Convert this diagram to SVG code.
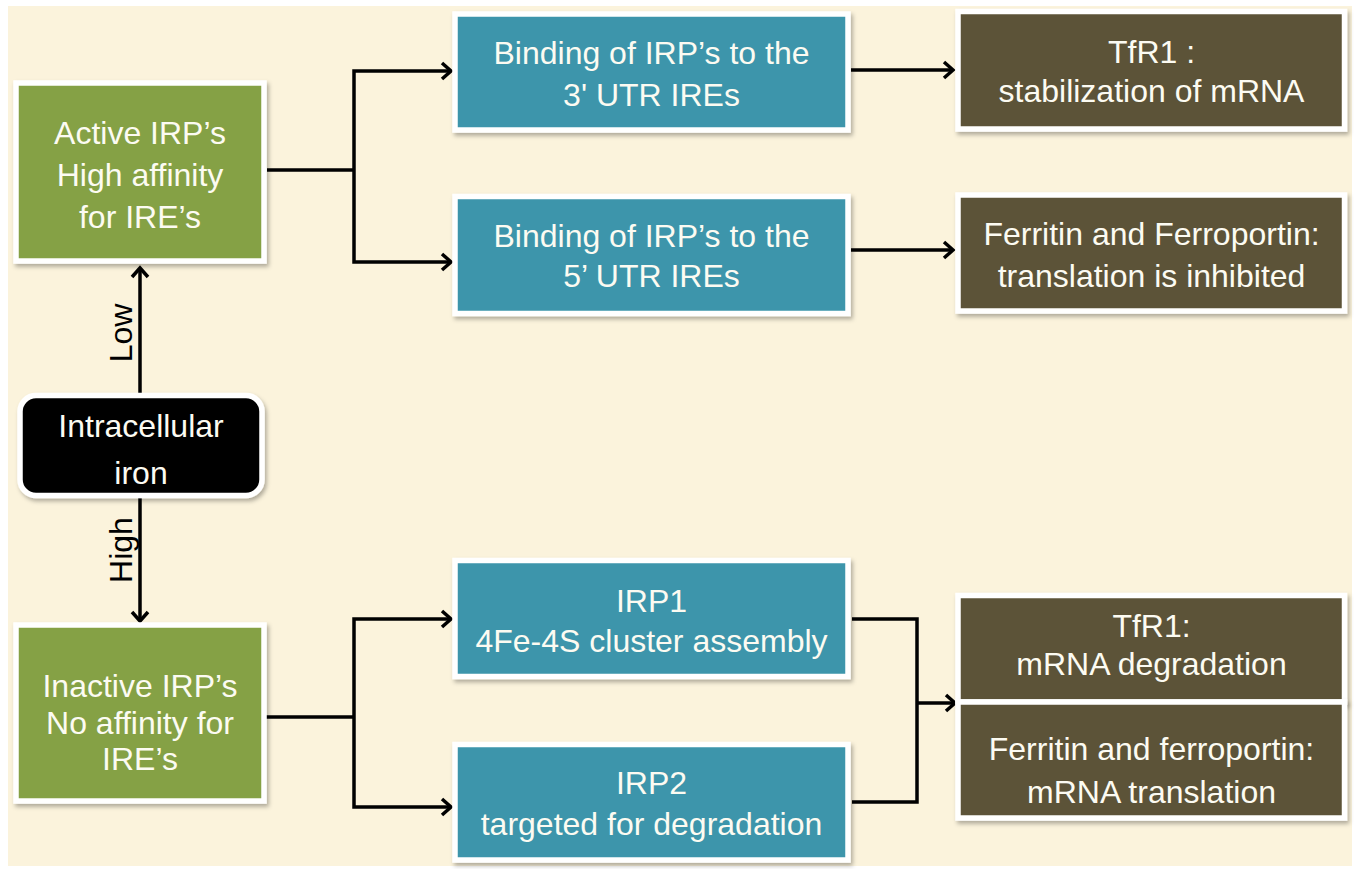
<svg xmlns="http://www.w3.org/2000/svg" width="1355" height="869" viewBox="0 0 1355 869">
<defs>
<filter id="sh" x="-10%" y="-10%" width="125%" height="130%">
<feDropShadow dx="2" dy="3" stdDeviation="2" flood-color="#000" flood-opacity="0.3"/>
</filter>
<marker id="arr" markerWidth="16" markerHeight="22" refX="12" refY="11" orient="auto" markerUnits="userSpaceOnUse">
<path d="M3,3 L12,11 L3,19" fill="none" stroke="#000" stroke-width="3.5"/>
</marker>
<style>
.box{stroke:#fff;stroke-width:5.5;filter:url(#sh)}
.green{fill:#85A145}
.teal{fill:#3C95AB}
.brown{fill:#5C5337}
.black{fill:#000}
.t{font-family:"Liberation Sans",Arial,sans-serif;font-size:32px;fill:#FCFBF2;text-anchor:middle}
.lbl{font-family:"Liberation Sans",Arial,sans-serif;font-size:32px;fill:#000;text-anchor:middle}
.c{fill:none;stroke:#000;stroke-width:3.5}
</style>
</defs>
<rect x="0" y="0" width="1355" height="869" fill="#fff"/>
<rect x="8" y="6" width="1344" height="860" fill="#FBF3DC"/>

<g id="connectors">
<path class="c" d="M140,393 V268" marker-end="url(#arr)"/>
<path class="c" d="M140,498 V621" marker-end="url(#arr)"/>
<path class="c" d="M267,170 H354"/>
<path class="c" d="M354,170 V71 H451" marker-end="url(#arr)"/>
<path class="c" d="M354,170 V262 H451" marker-end="url(#arr)"/>
<path class="c" d="M851,70 H953" marker-end="url(#arr)"/>
<path class="c" d="M851,250 H953" marker-end="url(#arr)"/>
<path class="c" d="M266,717 H354"/>
<path class="c" d="M354,717 V619 H451" marker-end="url(#arr)"/>
<path class="c" d="M354,717 V807 H451" marker-end="url(#arr)"/>
<path class="c" d="M852,619 H917 V802 H852"/>
<path class="c" d="M917,703 H955" marker-end="url(#arr)"/>
<text class="lbl" transform="translate(132,333) rotate(-90)">Low</text>
<text class="lbl" transform="translate(132,550) rotate(-90)">High</text>
</g>

<g id="active-irp">
<rect class="box green" x="16" y="83" width="248" height="178"/>
<text class="t" x="140" y="144">Active IRP’s</text>
<text class="t" x="140" y="186">High affinity</text>
<text class="t" x="140" y="228">for IRE’s</text>
</g>

<g id="intracellular-iron">
<rect class="box black" x="20" y="395.5" width="242" height="100" rx="16"/>
<text class="t" x="141" y="437">Intracellular</text>
<text class="t" x="141" y="484">iron</text>
</g>

<g id="inactive-irp">
<rect class="box green" x="16" y="625" width="248" height="176"/>
<text class="t" x="140" y="697">Inactive IRP’s</text>
<text class="t" x="140" y="734">No affinity for</text>
<text class="t" x="140" y="770">IRE’s</text>
</g>

<g id="binding-3utr">
<rect class="box teal" x="455" y="14" width="393" height="116"/>
<text class="t" x="651.5" y="64">Binding of IRP’s to the</text>
<text class="t" x="651.5" y="106">3' UTR IREs</text>
</g>

<g id="binding-5utr">
<rect class="box teal" x="455" y="196.5" width="393" height="117"/>
<text class="t" x="651.5" y="247">Binding of IRP’s to the</text>
<text class="t" x="651.5" y="287">5’ UTR IREs</text>
</g>

<g id="irp1">
<rect class="box teal" x="455" y="560.5" width="393" height="116"/>
<text class="t" x="651.5" y="612">IRP1</text>
<text class="t" x="651.5" y="652">4Fe-4S cluster assembly</text>
</g>

<g id="irp2">
<rect class="box teal" x="455" y="744.5" width="393" height="115.5"/>
<text class="t" x="651.5" y="794">IRP2</text>
<text class="t" x="651.5" y="835">targeted for degradation</text>
</g>

<g id="tfr1-stabilization">
<rect class="box brown" x="958" y="11.5" width="386.5" height="117.5"/>
<text class="t" x="1151.5" y="63">TfR1 :</text>
<text class="t" x="1151.5" y="102">stabilization of mRNA</text>
</g>

<g id="ferritin-inhibited">
<rect class="box brown" x="958" y="195" width="386.5" height="116"/>
<text class="t" x="1151.5" y="245">Ferritin and Ferroportin:</text>
<text class="t" x="1151.5" y="287">translation is inhibited</text>
</g>

<g id="tfr1-degradation">
<rect class="box brown" x="958" y="595.5" width="386.5" height="106.5"/>
<text class="t" x="1151.5" y="637">TfR1:</text>
<text class="t" x="1151.5" y="675">mRNA degradation</text>
</g>

<g id="ferritin-translation">
<rect class="box brown" x="958" y="702" width="386.5" height="116"/>
<text class="t" x="1151.5" y="760">Ferritin and ferroportin:</text>
<text class="t" x="1151.5" y="803">mRNA translation</text>
</g>
</svg>
